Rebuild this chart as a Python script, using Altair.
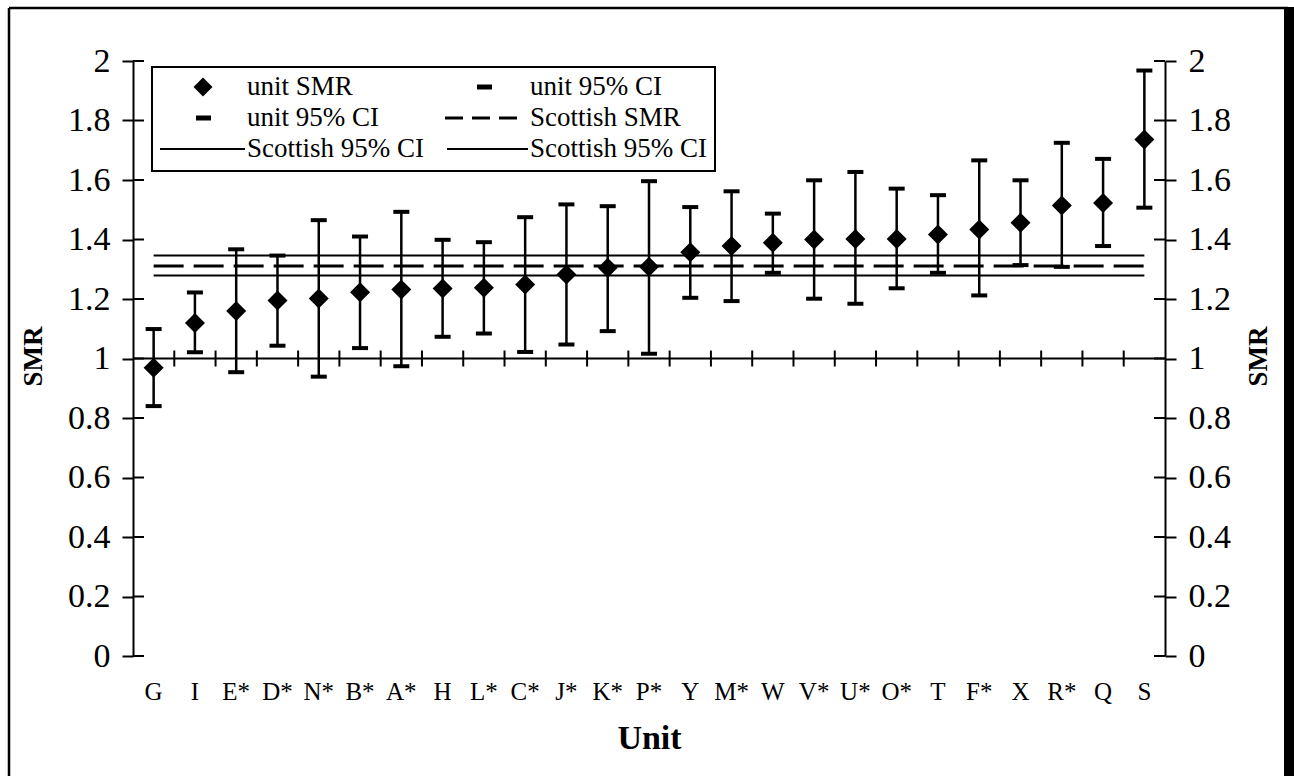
import altair as alt
import pandas as pd

FONT = "Liberation Serif"

units = ["G", "I", "E*", "D*", "N*", "B*", "A*", "H", "L*", "C*", "J*", "K*", "P*",
         "Y", "M*", "W", "V*", "U*", "O*", "T", "F*", "X", "R*", "Q", "S"]
smr = [0.969, 1.119, 1.160, 1.195, 1.202, 1.223, 1.232, 1.235, 1.238, 1.249, 1.282, 1.305, 1.308,
       1.357, 1.378, 1.389, 1.400, 1.402, 1.402, 1.417, 1.434, 1.456, 1.514, 1.523, 1.736]
lower = [0.840, 1.021, 0.954, 1.043, 0.939, 1.035, 0.974, 1.073, 1.084, 1.022, 1.047, 1.092, 1.016,
         1.204, 1.193, 1.288, 1.201, 1.184, 1.236, 1.288, 1.212, 1.314, 1.308, 1.378, 1.507]
upper = [1.099, 1.222, 1.367, 1.346, 1.465, 1.410, 1.493, 1.399, 1.391, 1.475, 1.518, 1.512, 1.596,
         1.509, 1.562, 1.487, 1.599, 1.627, 1.571, 1.549, 1.666, 1.599, 1.725, 1.671, 1.968]
scottish_smr = 1.311
scottish_lo = 1.279
scottish_hi = 1.346
y_ticks = [0, 0.2, 0.4, 0.6, 0.8, 1, 1.2, 1.4, 1.6, 1.8, 2]
axis_cross = 1.0

df = pd.DataFrame({
    "unit": units, "smr": smr, "lower": lower, "upper": upper,
    "scot": [scottish_smr] * len(units),
    "scot_lo": [scottish_lo] * len(units),
    "scot_hi": [scottish_hi] * len(units),
})

W, H = 1032, 595
L, T = 133, 61

xscale = alt.Scale(type="band", domain=units, paddingInner=0, paddingOuter=0)
yscale = alt.Scale(domain=[0, 2], nice=False, zero=True)

xaxis = alt.Axis(domain=False, ticks=False, labelAngle=0, labelFont=FONT, labelFontSize=25,
                 labelColor="black", labelPadding=23, title="Unit", titleFont=FONT,
                 titleFontSize=34, titleFontWeight="bold", titleColor="black", titlePadding=17)


def yaxis(orient, tx):
    return alt.Axis(orient=orient, values=y_ticks, format="~g", tickSize=11, tickWidth=2,
                    tickColor="black", domainColor="black", domainWidth=2, labelFont=FONT,
                    labelFontSize=34, labelColor="black", labelPadding=12, grid=False,
                    title="SMR", titleFont=FONT, titleFontSize=27, titleFontWeight="bold",
                    titleColor="black", titleAngle=270, titleX=tx, titleY=295,
                    titleAlign="center", titleBaseline="middle")


def X(**kw):
    return alt.X("unit:N", sort=units, scale=xscale, axis=xaxis, **kw)


base = alt.Chart(df)

# error bars
bars = base.mark_rule(color="black", strokeWidth=2.5).encode(
    x=X(), y=alt.Y("lower:Q", scale=yscale, axis=yaxis("right", 93)), y2="upper:Q")
cap_hi = base.mark_tick(orient="horizontal", color="black", size=16, thickness=4, opacity=1).encode(
    x=X(), y=alt.Y("upper:Q", scale=yscale, axis=None))
cap_lo = base.mark_tick(orient="horizontal", color="black", size=16, thickness=4, opacity=1).encode(
    x=X(), y=alt.Y("lower:Q", scale=yscale, axis=None))
points = base.mark_point(shape="diamond", filled=True, size=400, color="black", opacity=1).encode(
    x=X(), y=alt.Y("smr:Q", scale=yscale, axis=yaxis("left", -100)))

# Scottish lines
s_hi = base.mark_line(color="black", strokeWidth=2).encode(
    x=X(), y=alt.Y("scot_hi:Q", scale=yscale, axis=None))
s_lo = base.mark_line(color="black", strokeWidth=2).encode(
    x=X(), y=alt.Y("scot_lo:Q", scale=yscale, axis=None))
s_mid = base.mark_line(color="black", strokeWidth=3, strokeDash=[30, 10]).encode(
    x=X(), y=alt.Y("scot:Q", scale=yscale, axis=None))

# horizontal axis line at SMR = 1 with category-boundary ticks
cross_df = pd.DataFrame({"v": [axis_cross]})
cross = alt.Chart(cross_df).mark_rule(color="black", strokeWidth=2).encode(
    y=alt.Y("v:Q", scale=yscale, axis=None))
bticks = alt.Chart(df.iloc[1:]).transform_calculate(level=str(axis_cross)).mark_tick(
    orient="vertical", color="black", size=16, thickness=2, opacity=1).encode(
    x=X(bandPosition=0), y=alt.Y("level:Q", scale=yscale, axis=None))

# inner halves of the y-axis ticks
tick_df = pd.DataFrame({"t": y_ticks})
in_left = alt.Chart(tick_df).mark_tick(orient="horizontal", color="black", size=11, thickness=2,
                                       opacity=1).encode(
    x=alt.value(5.5), y=alt.Y("t:Q", scale=yscale, axis=None))
in_right = alt.Chart(tick_df).mark_tick(orient="horizontal", color="black", size=11, thickness=2,
                                        opacity=1).encode(
    x=alt.value(W - 5.5), y=alt.Y("t:Q", scale=yscale, axis=None))

one = alt.Data(values=[{"a": 1}])


def px(v, off):
    return alt.value(v - off)


def rule(x1, y1, x2, y2, w=2, dash=None):
    kw = dict(color="black", strokeWidth=w)
    if dash:
        kw["strokeDash"] = dash
    return alt.Chart(one).mark_rule(**kw).encode(
        x=px(x1, L), x2=px(x2, L), y=px(y1, T), y2=px(y2, T))


def text(t, x, y):
    return alt.Chart(one).mark_text(text=t, align="left", baseline="middle", font=FONT,
                                    fontSize=27, color="black").encode(x=px(x, L), y=px(y, T))


# outer frame
frame_top = rule(9, 8, 1288, 8, w=2.5)
frame_left = rule(9, 8, 9, 780, w=2.5)
frame_right = alt.Chart(one).mark_rect(color="black").encode(
    x=px(1284, L), x2=px(1294, L), y=px(7, T), y2=px(780, T))

# legend
lg_box = alt.Chart(one).mark_rect(fill="white", stroke="black", strokeWidth=2).encode(
    x=px(152, L), x2=px(715, L), y=px(67, T), y2=px(171, T))
r1, r2, r3 = 87, 118, 149
lg_diamond = alt.Chart(one).mark_point(shape="diamond", filled=True, size=361, color="black",
                                       opacity=1).encode(x=px(203, L), y=px(r1, T))
layers = [
    frame_top, frame_left, frame_right,
    s_hi, s_lo, s_mid, cross, bticks, in_left, in_right,
    bars, cap_hi, cap_lo, points,
    lg_box, lg_diamond,
    text("unit SMR", 247, r1),
    rule(477, r1, 492, r1, w=5), text("unit 95% CI", 530, r1),
    rule(196, r2, 211, r2, w=5), text("unit 95% CI", 247, r2),
    rule(445, r2, 518, r2, w=3, dash=[18, 9]), text("Scottish SMR", 530, r2),
    rule(160, r3, 245, r3, w=2), text("Scottish 95% CI", 247, r3),
    rule(447, r3, 528, r3, w=2), text("Scottish 95% CI", 530, r3),
]

chart = alt.layer(*layers).resolve_axis(y="independent").properties(
    width=W, height=H,
    autosize=alt.AutoSizeParams(type="none"),
    padding={"left": L, "top": T, "right": 1294 - L - W, "bottom": 776 - T - H},
    background="white",
).configure_view(stroke=None)

chart.save("out.html", embed_options={"renderer": "svg", "actions": False})
